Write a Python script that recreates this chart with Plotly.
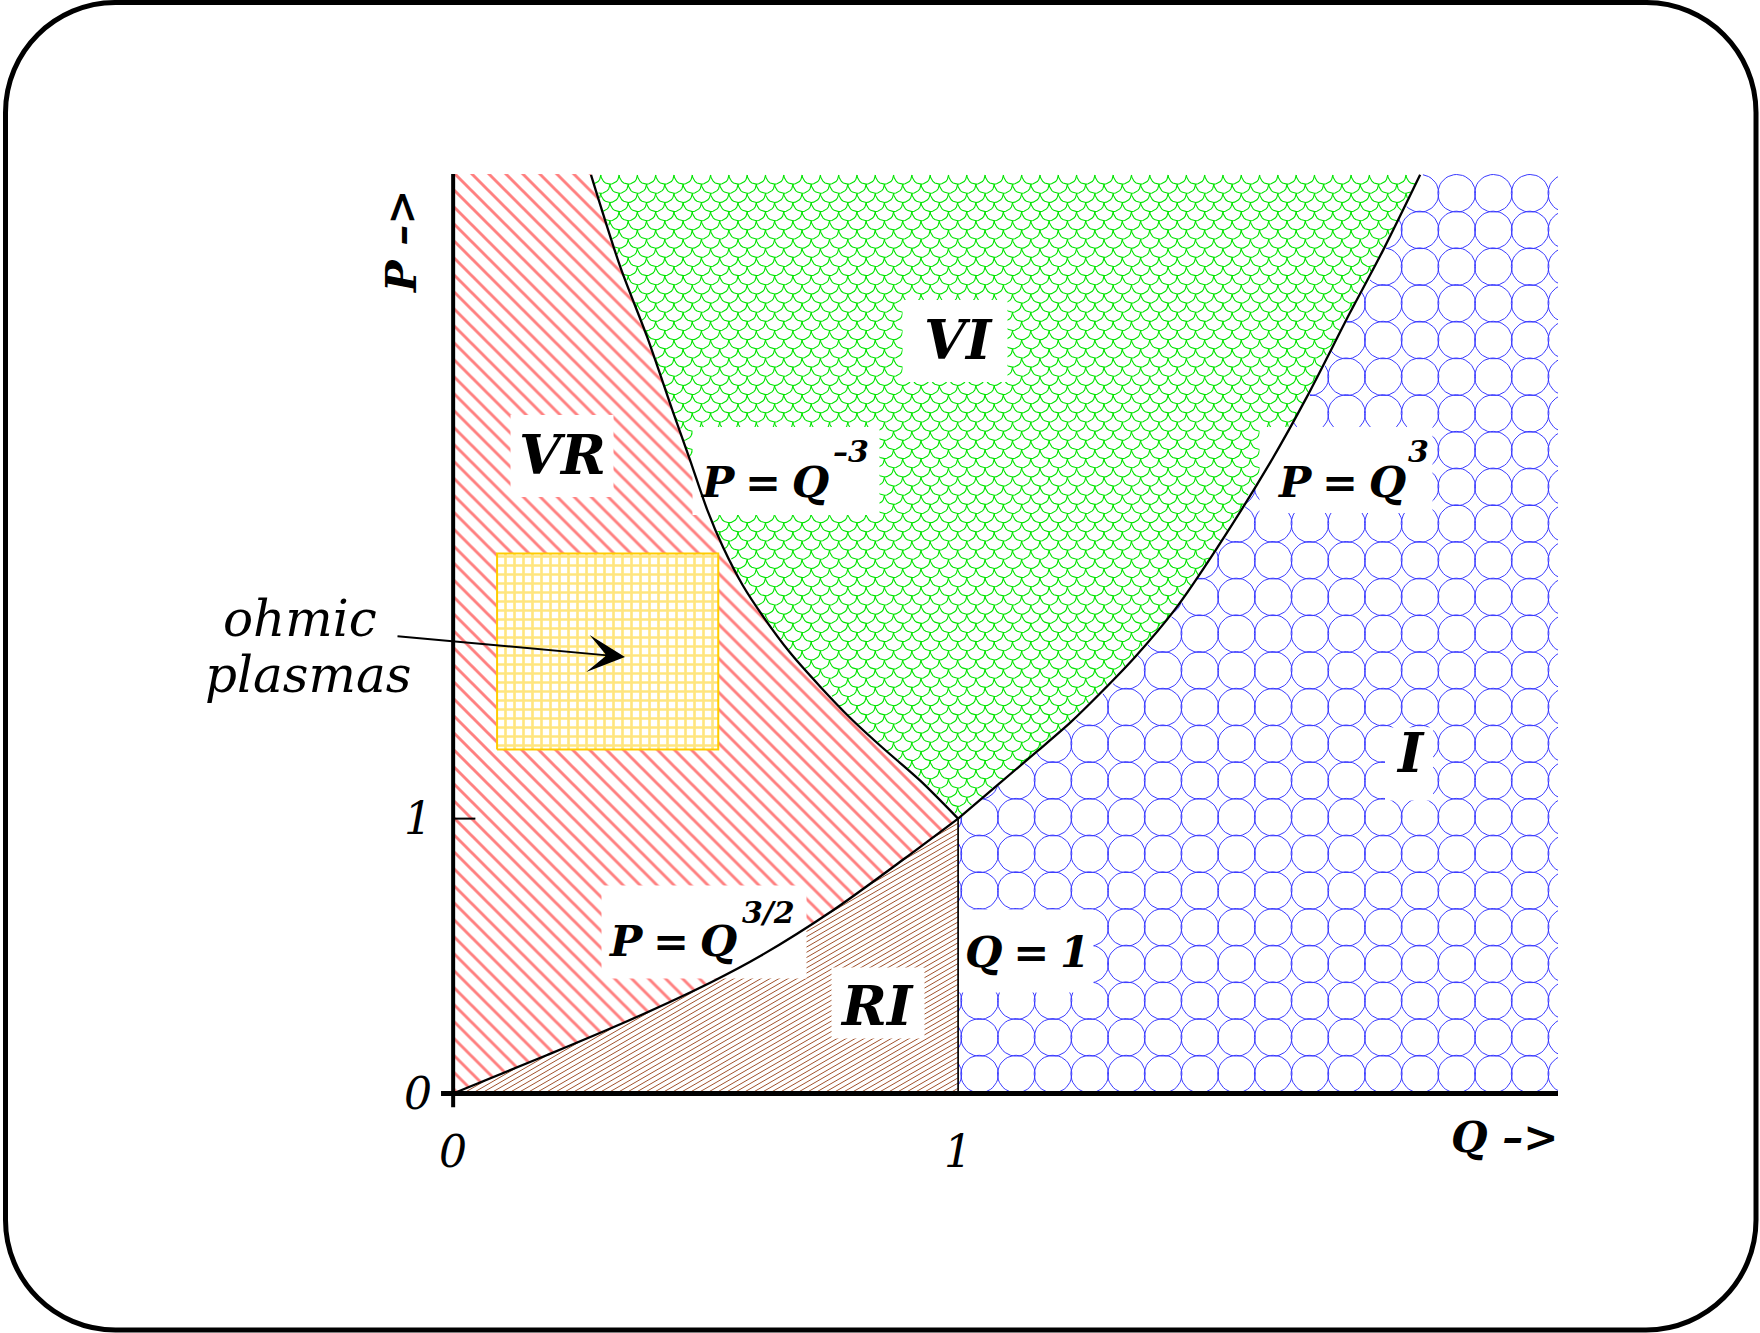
import numpy as np
import plotly.graph_objects as go

# ---------------- values (Q, P) ----------------
# boundary P = Q^-3  (VR | VI), from the top edge down to the triple point
q_minus3 = [0.273, 0.331, 0.384, 0.436, 0.469, 0.503, 0.535, 0.574, 0.614, 0.667,
            0.727, 0.786, 0.846, 0.925, 1.0]
p_minus3 = [3.342, 3.007, 2.753, 2.476, 2.305, 2.124, 1.985, 1.847, 1.735, 1.604,
            1.480, 1.367, 1.265, 1.138, 1.0]
# boundary P = Q^3  (VI | I)
q_cube = [1.0, 1.079, 1.158, 1.222, 1.281, 1.350, 1.430, 1.513, 1.618, 1.691, 1.776, 1.842, 1.915]
p_cube = [1.0, 1.124, 1.247, 1.349, 1.455, 1.587, 1.762, 1.985, 2.295, 2.535, 2.840, 3.069, 3.342]
# boundary P = Q^(3/2)  (VR | RI)
q_three_half = [0.0, 0.185, 0.341, 0.511, 0.610, 0.751, 0.892, 1.0]
p_three_half = [0.0, 0.139, 0.260, 0.405, 0.502, 0.665, 0.852, 1.0]
# boundary Q = 1  (RI | I)
q_unit = [1.0, 1.0]
p_unit = [0.0, 1.0]
# ohmic plasma box
ohmic_q = [0.087, 0.525]
ohmic_p = [1.251, 1.964]
# axis extents and ticks
q_max, p_max = 2.188, 3.345
x_tick_vals = [0, 1]
x_tick_text = ["0", "1"]
y_tick_vals = [0, 1]
y_tick_text = ["0", "1"]

# ---------------- layout constants (pixels) ----------------
W, H = 1760, 1333
ML, MR, MT, MB = 438, 202, 174, 223
X0, Y0 = -0.03, -0.06
PW, PH = W - ML - MR, H - MT - MB
SX = PW / (q_max - X0)
SY = PH / (p_max - Y0)
P_TOP = p_max + 0.05
FONT = "DejaVu Serif"


def d2p(q, p):
    q = np.asarray(q, float)
    p = np.asarray(p, float)
    return ML + (q - X0) * SX, MT + (p_max - p) * SY


def p2d(x, y):
    x = np.asarray(x, float)
    y = np.asarray(y, float)
    return X0 + (x - ML) / SX, p_max - (y - MT) / SY


def paper(x, y):
    return (x - ML) / PW, (H - MB - y) / PH


def inside(x, y, poly):
    px, py = poly
    res = np.zeros(x.shape, bool)
    n = len(px)
    j = n - 1
    for i in range(n):
        xi, yi, xj, yj = px[i], py[i], px[j], py[j]
        if yi != yj:
            with np.errstate(invalid="ignore"):
                c = ((yi > y) != (yj > y)) & (x < (xj - xi) * (y - yi) / (yj - yi) + xi)
            res ^= c
        j = i
    return res


def tolist(a):
    return [None if np.isnan(v) else round(float(v), 5) for v in a]


def pattern_trace(X, Y, poly_d, color, width):
    poly = d2p(*poly_d)
    X = np.hstack([X, np.full((X.shape[0], 1), np.nan)]).ravel()
    Y = np.hstack([Y, np.full((Y.shape[0], 1), np.nan)]).ravel()
    m = inside(X, Y, poly)
    X = np.where(m, X, np.nan)
    Y = np.where(m, Y, np.nan)
    q, p = p2d(X, Y)
    return go.Scatter(x=tolist(q), y=tolist(p), mode="lines", connectgaps=False,
                      line=dict(color=color, width=width), hoverinfo="skip")


# region polygons built from the boundary curves
vi_poly = (q_minus3 + q_cube[1:] + [q_cube[-1], q_minus3[0]],
           p_minus3 + p_cube[1:] + [P_TOP, P_TOP])
i_poly = ([1.0] + q_cube + [q_cube[-1], q_max + 0.1, q_max + 0.1],
          [0.0] + p_cube + [P_TOP, P_TOP, 0.0])
ri_poly = (q_three_half + [1.0], p_three_half + [0.0])
vr_q = [0.0, 0.0, q_minus3[0]] + q_minus3 + q_three_half[::-1][1:]
vr_p = [0.0, P_TOP, P_TOP] + p_minus3 + p_three_half[::-1][1:]

traces = []

# --- blue circles texture (region I)
rc = 18.8
cxs = 1420 + 36.7 * np.arange(-14, 5)
cys = 193.3 + 36.7 * np.arange(0, 25)
CX, CY = np.meshgrid(cxs, cys)
t = np.linspace(0, 2 * np.pi, 41)
Xc = CX.ravel()[:, None] + rc * np.cos(t)[None, :]
Yc = CY.ravel()[:, None] + rc * np.sin(t)[None, :]
traces.append(pattern_trace(Xc, Yc, i_poly, "#3a3aff", 1.0))

# --- green fish-scale texture (region VI)
rs = 9.15
rows = []
t2 = np.linspace(0, np.pi, 13)
for m in range(72):
    ym = 175 + rs * m
    xcs = 591.7 + 2 * rs * np.arange(-2, 48) + rs * (m % 2)
    rows.append((xcs[:, None] + rs * np.cos(t2)[None, :],
                 np.full((len(xcs), 1), ym) + rs * np.sin(t2)[None, :]))
Xs = np.vstack([r[0] for r in rows])
Ys = np.vstack([r[1] for r in rows])
traces.append(pattern_trace(Xs, Ys, vi_poly, "#00e400", 1.1))

# --- brown 30 degree hatch (region RI)
tan30 = np.tan(np.radians(30))
cs = np.arange(1075, 1665, 9 * tan30)
xs = np.arange(448, 966, 2.0)
Xb = np.tile(xs, (len(cs), 1))
Yb = cs[:, None] - tan30 * xs[None, :]
traces.append(pattern_trace(Xb, Yb, ri_poly, "#a0522d", 1.0))

# --- red 45 degree hatch (region VR)
traces.append(go.Scatter(x=vr_q, y=vr_p, mode="lines", fill="toself",
                         line=dict(width=0, color="rgba(0,0,0,0)"),
                         fillcolor="white",
                         fillpattern=dict(shape="\\", fgcolor="#ff0000", bgcolor="white",
                                          size=12, solidity=0.24),
                         hoverinfo="skip"))

# --- yellow crosshatch box: ohmic plasmas
traces.append(go.Scatter(x=[ohmic_q[0], ohmic_q[1], ohmic_q[1], ohmic_q[0], ohmic_q[0]],
                         y=[ohmic_p[0], ohmic_p[0], ohmic_p[1], ohmic_p[1], ohmic_p[0]],
                         mode="lines", fill="toself",
                         line=dict(width=2, color="#ffcc00"),
                         fillcolor="white",
                         fillpattern=dict(shape="+", fgcolor="#ffcc00", bgcolor="white",
                                          size=9, solidity=0.5),
                         hoverinfo="skip"))

# --- white label boxes: (box centre px, box size px)
boxes = [((562, 456), (103, 82)), ((955, 341), (105, 82)), ((786, 471), (187, 88)),
         ((1346, 470), (173, 86)), ((704, 932), (205, 93)), ((878, 1003), (93, 71)),
         ((1026, 951), (135, 83)), ((1409, 764), (48, 73))]
bx, by = [], []
for (cx, cy), (bw, bh) in boxes:
    xs_ = [cx - bw / 2, cx + bw / 2, cx + bw / 2, cx - bw / 2, cx - bw / 2]
    ys_ = [cy - bh / 2, cy - bh / 2, cy + bh / 2, cy + bh / 2, cy - bh / 2]
    qq, pp = p2d(xs_, ys_)
    bx += list(qq) + [None]
    by += list(pp) + [None]
traces.append(go.Scatter(x=bx, y=by, mode="lines", fill="toself", fillcolor="white",
                         line=dict(width=0, color="white"), hoverinfo="skip"))

# --- boundary curves
curve_line = dict(color="black", width=2.3, shape="spline", smoothing=0.8)
traces.append(go.Scatter(x=q_minus3, y=p_minus3, mode="lines", line=curve_line, hoverinfo="skip"))
traces.append(go.Scatter(x=q_cube, y=p_cube, mode="lines", line=curve_line, hoverinfo="skip"))
traces.append(go.Scatter(x=q_three_half, y=p_three_half, mode="lines", line=curve_line, hoverinfo="skip"))
traces.append(go.Scatter(x=q_unit, y=p_unit, mode="lines",
                         line=dict(color="black", width=1.7), hoverinfo="skip"))

# --- axes drawn as lines
traces.append(go.Scatter(x=[X0 + 0.006, q_max], y=[0, 0], mode="lines",
                         line=dict(color="black", width=5), hoverinfo="skip"))
traces.append(go.Scatter(x=[0, 0], y=[Y0 + 0.01, p_max], mode="lines",
                         line=dict(color="black", width=4), hoverinfo="skip"))
traces.append(go.Scatter(x=[0, 0.044], y=[1, 1], mode="lines",
                         line=dict(color="black", width=2), hoverinfo="skip"))

fig = go.Figure(traces)

# --- texts: (text, centre px, size, weight)
texts = [
    ("VR", (562, 455), 54, "bold"),
    ("VI", (958, 340), 54, "bold"),
    ("RI", (877, 1006), 54, "bold"),
    ("I", (1410, 753), 54, "bold"),
    ("P\u2005=\u2005Q", (764, 482), 43, "bold"),
    ("\u20133", (851, 451), 30, "bold"),
    ("P\u2005=\u2005Q", (1341, 482), 43, "bold"),
    ("3", (1418, 451), 30, "bold"),
    ("P\u2005=\u2005Q", (672, 941), 43, "bold"),
    ("3/2", (768, 912), 30, "bold"),
    ("Q\u2005=\u20051", (1027, 952), 43, "bold"),
]
ann = []
for text, (tx, ty), fs, wt in texts:
    q, p = p2d(tx, ty)
    ann.append(dict(x=float(q), y=float(p), xref="x", yref="y", text=text, showarrow=False,
                    xanchor="center", yanchor="middle",
                    font=dict(family=FONT, size=fs, color="black", style="italic", weight=wt)))

# tick labels
for v, s in zip(x_tick_vals, x_tick_text):
    ann.append(dict(x=v, y=0, xref="x", yref="y", text=s, showarrow=False, yshift=-58,
                    xanchor="center", yanchor="middle",
                    font=dict(family=FONT, size=44, color="black", style="italic")))
for v, s in zip(y_tick_vals, y_tick_text):
    ann.append(dict(x=0, y=v, xref="x", yref="y", text=s, showarrow=False, xshift=-35,
                    xanchor="center", yanchor="middle",
                    font=dict(family=FONT, size=44, color="black", style="italic")))

# axis titles
px_, py_ = paper(1560, 1137)
ann.append(dict(x=px_, y=py_, xref="paper", yref="paper", text="Q \u2013>", showarrow=False,
                xanchor="right", yanchor="middle",
                font=dict(family=FONT, size=42, color="black", style="italic", weight="bold")))
px_, py_ = paper(402, 242)
ann.append(dict(x=px_, y=py_, xref="paper", yref="paper", text="P \u2013>", showarrow=False,
                textangle=-90, xanchor="center", yanchor="middle",
                font=dict(family=FONT, size=42, color="black", style="italic", weight="bold")))

# ohmic plasmas text and arrow
for txt, (tx, ty) in [("ohmic", (300, 619)), ("plasmas", (308, 675))]:
    px_, py_ = paper(tx, ty)
    ann.append(dict(x=px_, y=py_, xref="paper", yref="paper", text=txt, showarrow=False,
                    xanchor="center", yanchor="middle",
                    font=dict(family=FONT, size=50, color="black", style="italic")))
hq, hp = p2d(625, 657)
tq, tp = p2d(396, 636)
ann.append(dict(x=float(hq), y=float(hp), xref="x", yref="y", ax=float(tq), ay=float(tp),
                axref="x", ayref="y", text="", showarrow=True, arrowhead=3,
                arrowsize=3.1, arrowwidth=2, arrowcolor="black", standoff=0, startstandoff=0))

# rounded outer frame
x0, y0, x1, y1, r = 5.5, 2.5, 1756, 1330, 110
k = 0.5523 * r
pts = [("M", [(x0 + r, y0)]), ("L", [(x1 - r, y0)]),
       ("C", [(x1 - r + k, y0), (x1, y0 + r - k), (x1, y0 + r)]),
       ("L", [(x1, y1 - r)]),
       ("C", [(x1, y1 - r + k), (x1 - r + k, y1), (x1 - r, y1)]),
       ("L", [(x0 + r, y1)]),
       ("C", [(x0 + r - k, y1), (x0, y1 - r + k), (x0, y1 - r)]),
       ("L", [(x0, y0 + r)]),
       ("C", [(x0, y0 + r - k), (x0 + r - k, y0), (x0 + r, y0)])]
path = ""
for cmd, coords in pts:
    path += cmd + " ".join("%.5f,%.5f" % paper(a, b) for a, b in coords) + " "
path += "Z"

fig.update_layout(
    width=W, height=H,
    margin=dict(l=ML, r=MR, t=MT, b=MB, pad=0),
    paper_bgcolor="white", plot_bgcolor="white",
    showlegend=False,
    xaxis=dict(range=[X0, q_max], visible=False, fixedrange=True),
    yaxis=dict(range=[Y0, p_max], visible=False, fixedrange=True),
    annotations=ann,
    shapes=[dict(type="path", path=path, xref="paper", yref="paper",
                 line=dict(color="black", width=5), fillcolor="rgba(0,0,0,0)", layer="above")],
)

fig.write_html("out.html", config={"displayModeBar": False},
               post_script="document.body.style.margin='0px';")
